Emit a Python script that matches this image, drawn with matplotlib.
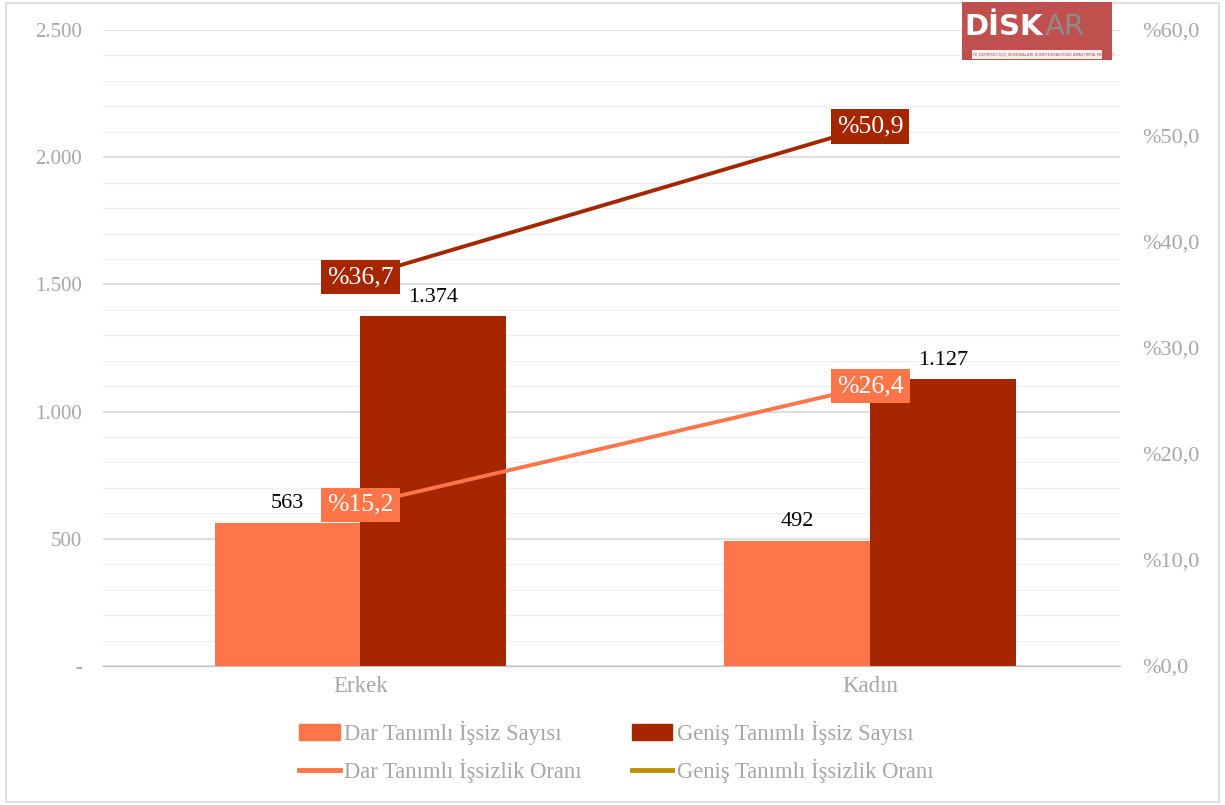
import numpy as np
import matplotlib.pyplot as plt
from matplotlib.patches import Patch, Rectangle
from matplotlib.lines import Line2D
from matplotlib.ticker import MultipleLocator, FixedLocator

# data (thousand persons / percent)
categories = ['Erkek', 'Kadın']
dar_sayi = [563, 492]
genis_sayi = [1374, 1127]
dar_oran = [15.2, 26.4]
genis_oran = [36.7, 50.9]
left_ticks = [0, 500, 1000, 1500, 2000, 2500]
left_labels = ['-', '500', '1.000', '1.500', '2.000', '2.500']
right_ticks = [0, 10, 20, 30, 40, 50, 60]

C_DAR = '#FF754A'
C_GEN = '#A62600'
C_GOLD = '#BF9000'
C_TXT = '#A6A6A6'
FONT = ['Liberation Serif', 'DejaVu Serif']

plt.rcParams['font.family'] = FONT

fig = plt.figure(figsize=(12.25, 8.05), dpi=100)
ax = fig.add_axes([0.0841, 0.1727, 0.8300, 0.7900])
ax2 = ax.twinx()

x = np.arange(len(categories))
w = 0.286
b1 = ax.bar(x - w / 2, dar_sayi, w, color=C_DAR, zorder=3)
b2 = ax.bar(x + w / 2, genis_sayi, w, color=C_GEN, zorder=3)

for rect, v in zip(list(b1) + list(b2), dar_sayi + genis_sayi):
    lbl = f'{v:,}'.replace(',', '.')
    ax.annotate(lbl, (rect.get_x() + rect.get_width() / 2, v),
                xytext=(0, 7), textcoords='offset points', ha='center',
                va='bottom', fontsize=16, color='black', zorder=5)

ax.set_xlim(-0.505, 1.49)
ax.set_ylim(0, 2500)
ax2.set_ylim(0, 60)

# gridlines
ax.yaxis.set_major_locator(FixedLocator(left_ticks))
ax.yaxis.set_minor_locator(MultipleLocator(100))
ax.grid(which='major', axis='y', color='#D9D9D9', lw=1.2, zorder=0)
ax.grid(which='minor', axis='y', color='#F0F0F0', lw=1.0, zorder=0)
ax.set_yticklabels(left_labels)
ax.tick_params(axis='y', which='both', length=0, pad=15, labelsize=15, labelcolor=C_TXT)
ax.set_xticks(x)
ax.set_xticklabels(categories)
ax.tick_params(axis='x', length=0, pad=7, labelsize=16.5, labelcolor=C_TXT)

ax2.set_yticks(right_ticks)
ax2.set_yticklabels([f'%{t:.1f}'.replace('.', ',') for t in right_ticks])
ax2.tick_params(axis='y', length=0, pad=16, labelsize=16, labelcolor=C_TXT)

for a in (ax, ax2):
    for s in a.spines.values():
        s.set_visible(False)
ax.spines['bottom'].set_visible(True)
ax.spines['bottom'].set_color('#BFBFBF')
ax.spines['bottom'].set_zorder(4)

# rate lines
ax2.plot(x, dar_oran, color=C_DAR, lw=2.8, zorder=4, solid_capstyle='round')
ax2.plot(x, genis_oran, color=C_GEN, lw=2.8, zorder=4, solid_capstyle='round')
for vals, col in ((dar_oran, C_DAR), (genis_oran, C_GEN)):
    for xi, v in zip(x, vals):
        ax2.text(xi, v, f'%{v:.1f}'.replace('.', ','), ha='center', va='center',
                 fontsize=18.5, color='white', zorder=6,
                 bbox=dict(boxstyle='square,pad=0.24', fc=col, ec='none'))

# legend
handles = [Patch(color=C_DAR), Line2D([], [], color=C_DAR, lw=3.5),
           Patch(color=C_GEN), Line2D([], [], color=C_GOLD, lw=3.5)]
labels = ['Dar Tanımlı İşsiz Sayısı', 'Dar Tanımlı İşsizlik Oranı',
          'Geniş Tanımlı İşsiz Sayısı', 'Geniş Tanımlı İşsizlik Oranı']
fig.legend(handles, labels, ncol=2, loc='center', bbox_to_anchor=(0.503, 0.066),
           frameon=False, fontsize=16.3, labelcolor=C_TXT, handlelength=1.8,
           handleheight=0.7, handletextpad=0.2, columnspacing=2.2, labelspacing=0.6)

# outer border
fig.patches.append(Rectangle((0.005, 0.004), 0.99, 0.992, transform=fig.transFigure,
                             fill=False, ec='#D9D9D9', lw=1.2))

# logo
H = 805
lx, lw_ = 962 / 1225, 150 / 1225
fig.patches.append(Rectangle((lx, 1 - 60 / H), lw_, 58 / H, transform=fig.transFigure,
                             fc='#C0504D', ec='none', zorder=10))
fig.patches.append(Rectangle((972 / 1225, 1 - 59 / H), 130 / 1225, 9 / H,
                             transform=fig.transFigure, fc='#F2F2F2', ec='none', zorder=11))
fig.text(1043 / 1225, 1 - 27 / H, 'DİSK', ha='right', va='center', fontsize=21,
         fontweight='bold', color='white', family='DejaVu Sans Condensed', zorder=12)
fig.text(1045 / 1225, 1 - 27 / H, 'AR', ha='left', va='center', fontsize=21,
         color='#8C8C8C', family='DejaVu Sans Condensed', zorder=12)
fig.text(1037 / 1225, 1 - 54.5 / H, 'TÜRKİYE DEVRİMCİ İŞÇİ SENDİKALARI KONFEDERASYONU ARAŞTIRMA MERKEZİ',
         ha='center', va='center', fontsize=2.8, color='#C0504D', family='DejaVu Sans', zorder=12)

fig.savefig('out.png', dpi=100)
